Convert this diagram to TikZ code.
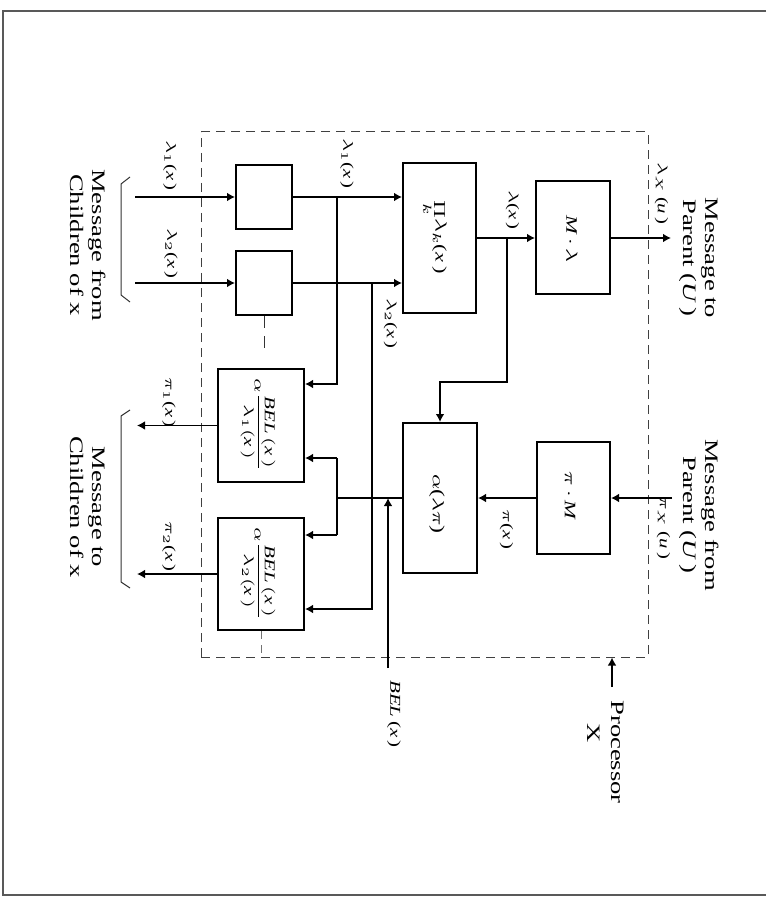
\documentclass[tikz,border=0pt]{standalone}
\usepackage{amsmath}
\usepackage{graphicx}
\usepackage{fontspec}
\setmainfont{Liberation Serif}
\usetikzlibrary{arrows.meta,calc}
\newcommand\sx[1]{\scalebox{1.4}[1]{#1}}
\newcommand\vx{\textit{x}}
\begin{document}
\begin{tikzpicture}[x=0.5pt,y=-0.5pt,
  box/.style={draw,line width=1pt,inner sep=0pt},
  con/.style={line width=0.8pt},
  arr/.style={con,-{Latex[length=4pt,width=4.4pt]}},
  rt/.style={rotate=-90,inner sep=0pt},
  lab/.style={rt,font=\fontsize{7.4}{8}\selectfont},
  inb/.style={rt,font=\fontsize{8}{9}\selectfont},
  big/.style={rt,font=\fontsize{9.5}{11}\selectfont},
  thin/.style={line width=0.5pt,black!80}]
\useasboundingbox (0,0) rectangle (766,898);
% page frame
\draw[black!65,line width=0.6pt] (766,11) -- (3,11) -- (3,895) -- (766,895);
% processor frame
\node[draw=black!75,line width=0.5pt,dash pattern=on 4.5pt off 3pt,
      minimum width=223.5pt,minimum height=262.5pt,inner sep=0pt] (proc) at (424.5,394.5) {};
% boxes
\node[box,minimum width=28pt,minimum height=32pt] (b1) at (264,197) {};
\node[box,minimum width=28pt,minimum height=32pt] (b2) at (264,283) {};
\node[box,minimum width=36.5pt,minimum height=75pt] (prod) at (439.5,238) {};
\node[box,minimum width=37pt,minimum height=56.5pt] (ml) at (573,238) {};
\node[box,minimum width=36.5pt,minimum height=56pt] (pm) at (573.5,498) {};
\node[box,minimum width=37pt,minimum height=75pt] (al) at (440,498) {};
\node[box,minimum width=43pt,minimum height=56.5pt] (p1) at (261,425.5) {};
\node[box,minimum width=43pt,minimum height=56pt] (p2) at (261,574) {};
% box texts
\node[inb] (prodt) at (434,237) {\sx{$\mathop{\Pi}\limits_{k}\!\lambda_{k}$(\vx\,)}};
\node[inb] (mlt) at (572,239) {\sx{\textit{M}\,$\cdot$\,$\lambda$}};
\node[inb] (pmt) at (570,496) {\sx{$\pi$\,$\cdot$\,\textit{M}}};
\node[rt,font=\fontsize{8.5}{9}\selectfont] (alt) at (437,504) {\sx{$\alpha$($\lambda\pi$)}};
\node[rt,font=\fontsize{7.5}{8.5}\selectfont] (p1t) at (258,425) {\sx{$\alpha\dfrac{\textit{BEL}\,(\textit{x}\,)}{\lambda_1(\textit{x}\,)}$}};
\node[rt,font=\fontsize{7.5}{8.5}\selectfont] (p2t) at (258,574) {\sx{$\alpha\dfrac{\textit{BEL}\,(\textit{x}\,)}{\lambda_2(\textit{x}\,)}$}};
% inputs from children
\coordinate (i1) at (135,197);
\coordinate (i2) at (135,283);
\draw[arr] (i1) -- (b1.west);
\draw[arr] (i2) -- (b2.west);
\draw[arr] (b1.east) -- (b1.east -| prod.west);
\draw[arr] (b2.east) -- (b2.east -| prod.west);
% lambda branches
\coordinate (j1) at (337,197);
\coordinate (k1) at (337,384);
\draw[arr] (j1) -- (k1) -- (k1 -| p1.east);
\coordinate (j2) at (372,283);
\coordinate (k2) at (372,609);
\draw[arr] (j2) -- (k2) -- (k2 -| p2.east);
% product output
\draw[arr] (prod.east) -- (ml.west);
\coordinate (j3) at (507,238);
\coordinate (k3) at (507,382);
\draw[arr] (j3) -- (k3) -- (k3 -| al.north) -- (al.north);
\coordinate (o1) at (671,238);
\draw[arr] (ml.east) -- (o1);
% from parent
\coordinate (i3) at (672,498);
\draw[arr] (i3) -- (pm.east);
\draw[arr] (pm.west) -- (al.east);
% BEL distribution
\coordinate (bj) at (337,498);
\coordinate (bu) at (337,458);
\coordinate (bd) at (337,535);
\draw[con] (al.west) -- (bj);
\draw[con] (bu) -- (bd);
\draw[arr] (bu) -- (bu -| p1.east);
\draw[arr] (bd) -- (bd -| p2.east);
\coordinate (bel0) at (388,668);
\coordinate (bel1) at (388,498);
\draw[arr] (bel0) -- (bel1);
% outputs to children
\coordinate (o2) at (137,425.5);
\coordinate (o3) at (137,574);
\draw[arr] (p1.west) -- (o2);
\draw[arr] (p2.west) -- (o3);
% continuation marks
\draw[thin,dash pattern=on 6pt off 4pt] (b2.south) -- ++(0,32);
\draw[thin,black!55,dash pattern=on 4pt off 3pt] (p2.south) -- (p2.south |- proc.south);
% processor pointer
\coordinate (pa) at (612,687);
\draw[arr] (pa) -- (pa |- proc.south);
% braces
\draw[thin] (130,177) -- (121,184) -- (121,295) -- (130,302);
\draw[thin] (130,410) -- (121,416) -- (121,582) -- (130,588);
% labels
\node[lab] (l1) at (170,165.5) {\sx{$\lambda_1$(\vx\,)}};
\node[lab] (l2) at (171,253.5) {\sx{$\lambda_2$(\vx\,)}};
\node[lab] (l3) at (347,163.5) {\sx{$\lambda_1$(\vx\,)}};
\node[lab] (l4) at (390.5,323.5) {\sx{$\lambda_2$(\vx\,)}};
\node[lab] (l5) at (512.5,210) {\sx{$\lambda$(\vx\,)}};
\node[lab] (l6) at (661.5,193.5) {\sx{$\lambda_X$\,(\textit{u}\,)}};
\node[lab] (l7) at (506.5,529.5) {\sx{$\pi$(\vx\,)}};
\node[lab] (l8) at (663.5,528) {\sx{$\pi_X$\,(\textit{u}\,)}};
\node[lab] (l9) at (169,402.5) {\sx{$\pi_1$(\vx\,)}};
\node[lab] (l10) at (169,546.5) {\sx{$\pi_2$(\vx\,)}};
\node[rt,font=\fontsize{7.5}{8.5}\selectfont] (l11) at (394,714) {\sx{\textit{BEL}\,(\vx\,)}};
% big texts
\node[big,anchor=base] (t1a) at (705,258) {\sx{Message to}};
\node[big,anchor=base] (t1b) at (683,258) {\sx{Parent (\textit{U}\,)}};
\node[big,anchor=base] (t2a) at (705,515) {\sx{Message from}};
\node[big,anchor=base] (t2b) at (683,515) {\sx{Parent (\textit{U}\,)}};
\node[big,anchor=base] (t3a) at (92,245) {\sx{Message from}};
\node[big,anchor=base] (t3b) at (70,245) {\sx{Children of x}};
\node[big,anchor=base] (t4a) at (92,507) {\sx{Message to}};
\node[big,anchor=base] (t4b) at (70,507) {\sx{Children of x}};
\node[big,anchor=base west] (t5a) at (611,700) {\sx{Processor}};
\node[big,anchor=base west] (t5b) at (587,723) {\sx{X}};
\end{tikzpicture}
\end{document}
